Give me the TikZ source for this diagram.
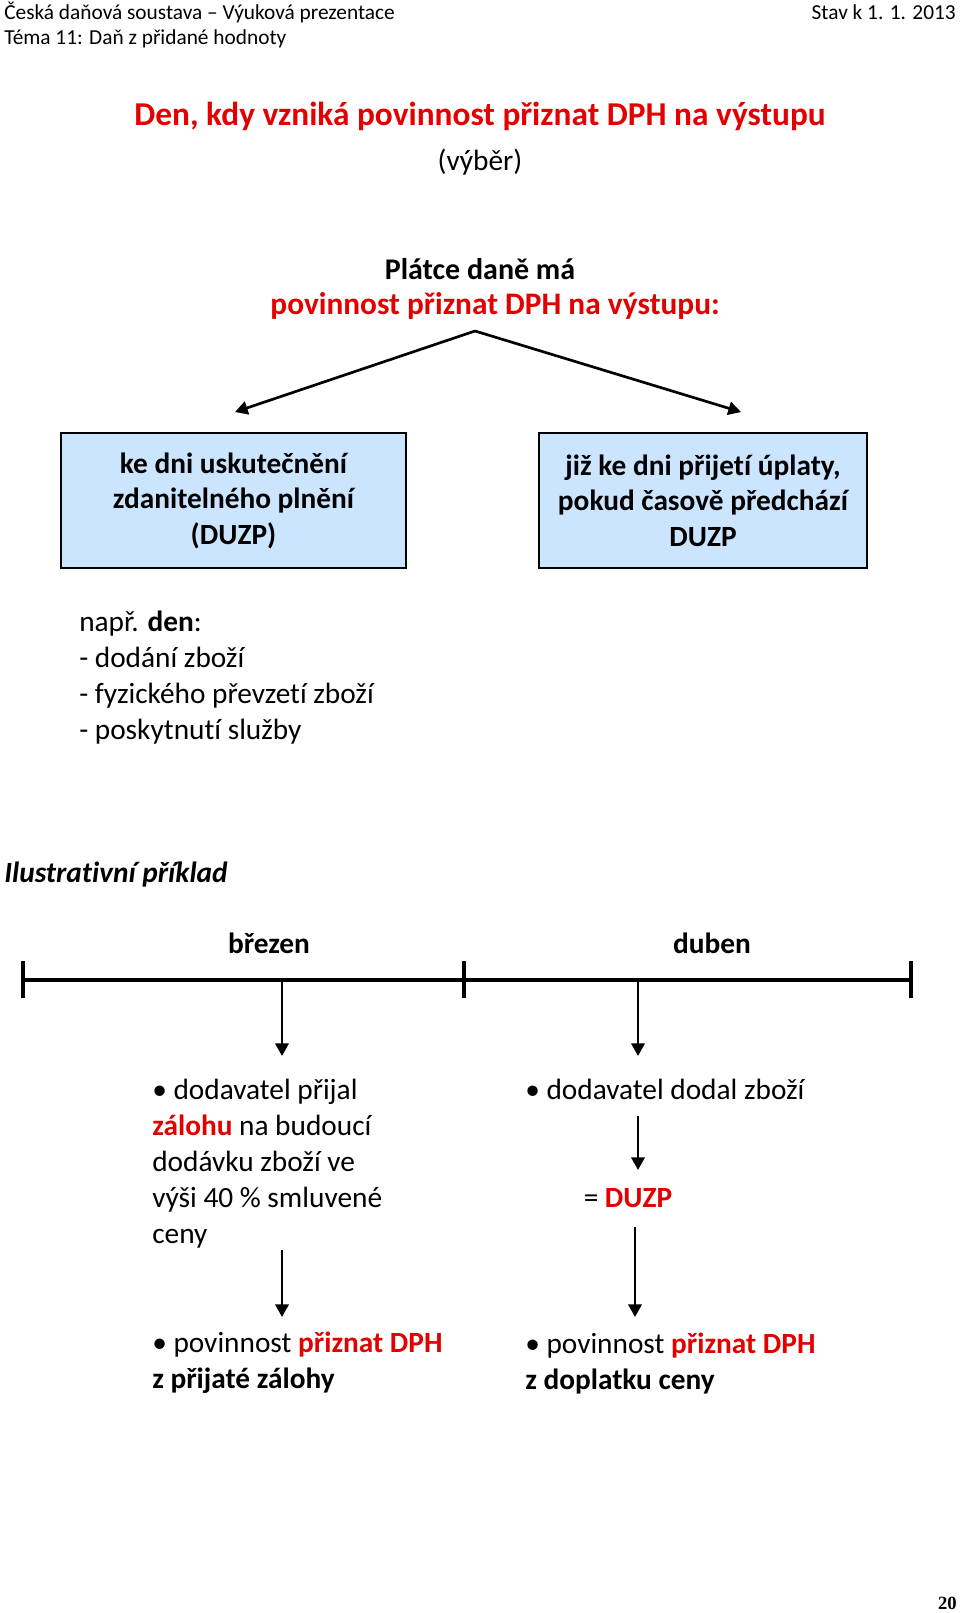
\documentclass[tikz,border=0pt]{standalone}
\usepackage{fontspec}
\setmainfont{Carlito}[RawFeature={-liga;-clig;-dlig;-calt;-ccmp;-rlig}]
\newfontfamily\pagenumfont{Liberation Serif}
\usetikzlibrary{arrows.meta,positioning,calc}
\definecolor{dphred}{RGB}{226,0,0}
\definecolor{boxblue}{RGB}{204,229,255}
\tikzset{
  txt/.style={inner sep=0pt, font=\fontsize{22}{27}\selectfont},
  head/.style={inner sep=0pt, font=\fontsize{16}{18.75}\selectfont},
  dphbox/.style={draw, line width=2pt, fill=boxblue, align=center,
    minimum height=135*0.75pt, inner sep=0pt,
    font=\fontsize{22}{26.6}\selectfont\bfseries},
  arr/.style={line width=2pt, -{Triangle[length=9.5pt,width=10pt]}},
  axis/.style={line width=2.3pt}
}

\begin{document}
\begin{tikzpicture}[x=0.75pt,y=-0.75pt]
  \useasboundingbox (0,0) rectangle (960,1613);
  \def \basey {7}

  % hlavicka
  \node[head, anchor=base west] (kurz) at (4,12+\basey) {Česká daňová soustava – Výuková prezentace};
  \node[head, anchor=base east] (stav) at (956,12+\basey) {Stav k 1. 1. 2013};
  \node[head, anchor=base west] (tema) at (4,37+\basey) {Téma 11: Daň z přidané hodnoty};

  \node[txt, font=\fontsize{25}{30}\selectfont\bfseries, text=dphred, anchor=base]
    (nadpis) at (480,118+\basey) {Den, kdy vzniká povinnost přiznat DPH na výstupu};
  \node[txt, anchor=base] (vyber) at (480,163+\basey) {(výběr)};

  \node[txt, font=\fontsize{22.5}{28}\selectfont\bfseries, anchor=base]
    (platce) at (480,272+\basey) {Plátce daně má};
  \node[txt, font=\fontsize{23.5}{28}\selectfont\bfseries, text=dphred, anchor=base]
    (povinnost) at (495,307+\basey) {povinnost přiznat DPH na výstupu:};

  \node[dphbox, minimum width=345*0.75pt] (duzp) at (233.5,500.5)
    {ke dni uskutečnění\\zdanitelného plnění\\(DUZP)};
  \node[dphbox, minimum width=328*0.75pt] (uplata) at (703,500.5)
    {již ke dni přijetí úplaty,\\pokud časově předchází\\DUZP};

  \coordinate (rozcesti) at (475,331);
  \draw[arr] (rozcesti) -- (235,412);
  \draw[arr] (rozcesti) -- (741,412);

  \node[txt, align=left, anchor=west] (napr) at (79,678)
    {např. \textbf{den}:\\- dodání zboží\\- fyzického převzetí zboží\\- poskytnutí služby};

  % priklad
  \node[txt, font=\fontsize{22}{27}\selectfont\bfseries\itshape, anchor=base west]
    (priklad) at (4,875+\basey) {Ilustrativní příklad};
  \node[txt, font=\fontsize{22}{27}\selectfont\bfseries, anchor=base]
    (brezen) at (269,946+\basey) {březen};
  \node[txt, font=\fontsize{22}{27}\selectfont\bfseries, anchor=base]
    (duben) at (712,946+\basey) {duben};

  \coordinate (t0) at (23,980);
  \coordinate (t1) at (464,980);
  \coordinate (t2) at (911,980);
  \draw[axis] (t0) -- (t2);
  \foreach \t in {t0,t1,t2}
    \draw[axis] ($(\t)+(0,-19)$) -- ($(\t)+(0,18)$);

  \coordinate (zaloha) at (282,980);
  \coordinate (dodani) at (638,980);
  \draw[arr] (zaloha) -- (282,1056);
  \draw[arr] (dodani) -- (638,1056);

  \node[txt, align=left, anchor=west] (prijal) at (152,1164)
    {\textbullet\ dodavatel přijal\\\textcolor{dphred}{\textbf{zálohu}} na budoucí\\dodávku zboží ve\\výši 40 \% smluvené\\ceny};
  \node[txt, anchor=base west] (dodal) at (525,1092+\basey) {\textbullet\ dodavatel dodal zboží};

  \draw[arr] (638,1116) -- (638,1170);
  \node[txt, anchor=base] (rovno) at (628,1200+\basey) {= \textcolor{dphred}{\textbf{DUZP}}};

  \draw[arr] (282,1250) -- (282,1317);
  \draw[arr] (635,1227) -- (635,1317);

  \node[txt, align=left, anchor=west] (dphzaloha) at (152,1363)
    {\textbullet\ povinnost \textcolor{dphred}{\textbf{přiznat DPH}}\\\textbf{z přijaté zálohy}};
  \node[txt, align=left, anchor=west] (dphdoplatek) at (525,1363)
    {\textbullet\ povinnost \textcolor{dphred}{\textbf{přiznat DPH}}\\\textbf{z doplatku ceny}};

  \node[inner sep=0pt, font=\pagenumfont\fontsize{14}{16}\selectfont\bfseries, anchor=base east]
    (strana) at (957,1609) {20};
\end{tikzpicture}
\end{document}
